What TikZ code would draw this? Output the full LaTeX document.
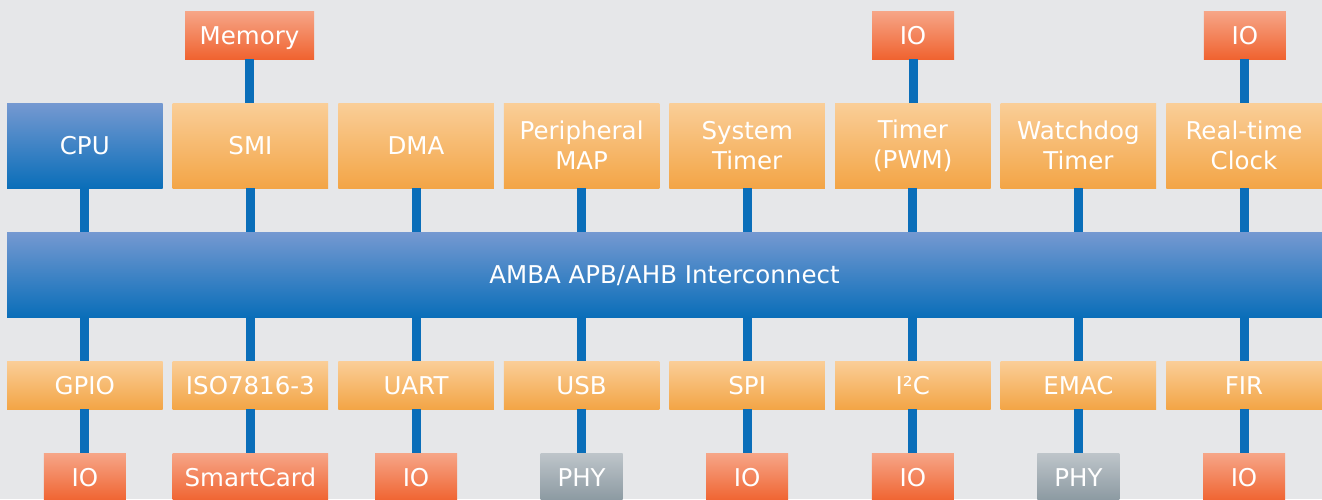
\documentclass[tikz,border=0pt]{standalone}
\usepackage{fontspec}
\setmainfont{DejaVu Sans}
\definecolor{bgcol}{HTML}{E6E7E9}
\definecolor{blueTop}{HTML}{7599D1}
\definecolor{blueMid}{HTML}{3D7FC4}
\definecolor{blueBot}{HTML}{0A6EB9}
\definecolor{orTop}{HTML}{FACE98}
\definecolor{orMid}{HTML}{F6B76A}
\definecolor{orBot}{HTML}{F3A546}
\definecolor{redTop}{HTML}{F6A688}
\definecolor{redMid}{HTML}{F27D50}
\definecolor{redBot}{HTML}{F06330}
\definecolor{gyTop}{HTML}{BEC5CA}
\definecolor{gyMid}{HTML}{A2ADB3}
\definecolor{gyBot}{HTML}{8B99A1}
\definecolor{wire}{HTML}{0A6EB9}
\tikzset{
  x=1pt, y=-1pt,
  box/.style={rectangle, inner sep=0pt, align=center, text=white,
    font=\fontsize{24.5}{29.7}\selectfont},
  one/.style={text height=18pt, text depth=0pt},
  bluebox/.style={box, top color=blueTop, middle color=blueMid, bottom color=blueBot},
  orbox/.style={box, top color=orTop, middle color=orMid, bottom color=orBot,
    minimum width=155.5pt},
  redbox/.style={box, one, top color=redTop, middle color=redMid, bottom color=redBot,
    minimum height=48pt},
  greybox/.style={box, one, top color=gyTop, middle color=gyMid, bottom color=gyBot,
    minimum height=48pt, minimum width=82pt},
  tall/.style={minimum height=85pt},
  short/.style={one, minimum height=48pt},
  conn/.style={draw=wire, line width=9pt},
}
\begin{document}
\begin{tikzpicture}
\useasboundingbox (0,0) rectangle (1322,499);
\clip (0,0) rectangle (1322,499);
\fill[bgcol] (0,0) rectangle (1322,499);

% top row of external devices
\node[redbox, minimum width=129pt] (mem) at (249.5,35) {Memory};
\node[redbox, minimum width=82pt] (iotA) at (913,35) {IO};
\node[redbox, minimum width=82pt] (iotB) at (1244.8,35) {IO};

% upper row of blocks
\node[bluebox, one, tall, minimum width=155.5pt] (cpu) at (84.8,145.5) {CPU};
\node[orbox, one, tall] (smi) at (250.4,145.5) {SMI};
\node[orbox, one, tall] (dma) at (416.0,145.5) {DMA};
\node[orbox, tall] (pmap) at (581.6,145.5) {Peripheral\\MAP};
\node[orbox, tall] (stim) at (747.2,145.5) {System\\Timer};
\node[orbox, tall] (pwm) at (912.8,145.5) {Timer\\(PWM)};
\node[orbox, tall] (wdt) at (1078.4,145.5) {Watchdog\\Timer};
\node[orbox, tall] (rtc) at (1244.0,145.5) {Real-time\\Clock};

% interconnect
\node[bluebox, one, minimum width=1315pt, minimum height=85pt] (bus) at (664.5,274.5) {AMBA APB/AHB Interconnect};

% lower row of blocks
\node[orbox, short] (gpio) at (84.8,385) {GPIO};
\node[orbox, short] (iso) at (250.4,385) {ISO7816-3};
\node[orbox, short] (uart) at (416.0,385) {UART};
\node[orbox, short] (usb) at (581.6,385) {USB};
\node[orbox, short] (spi) at (747.2,385) {SPI};
\node[orbox, short] (itc) at (912.8,385) {I²C};
\node[orbox, short] (emac) at (1078.4,385) {EMAC};
\node[orbox, short] (fir) at (1244.0,385) {FIR};

% bottom row of external devices
\node[redbox, minimum width=82pt] (ioA) at (84.8,477) {IO};
\node[redbox, minimum width=155.5pt] (card) at (250.4,477) {SmartCard};
\node[redbox, minimum width=82pt] (ioB) at (416.0,477) {IO};
\node[greybox] (phyA) at (581.6,477) {PHY};
\node[redbox, minimum width=82pt] (ioC) at (747.2,477) {IO};
\node[redbox, minimum width=82pt] (ioD) at (912.8,477) {IO};
\node[greybox] (phyB) at (1078.4,477) {PHY};
\node[redbox, minimum width=82pt] (ioE) at (1244.0,477) {IO};

% links from external devices to upper blocks
\draw[conn] (mem.south) -- (mem.south |- smi.north);
\draw[conn] (iotA.south) -- (iotA.south |- pwm.north);
\draw[conn] (iotB.south) -- (iotB.south |- rtc.north);

% upper blocks to the interconnect
\foreach \n in {cpu,smi,dma,pmap,stim,pwm,wdt,rtc}
  \draw[conn] (\n.south) -- (\n.south |- bus.north);

% interconnect to lower blocks
\foreach \n in {gpio,iso,uart,usb,spi,itc,emac,fir}
  \draw[conn] (\n.north |- bus.south) -- (\n.north);

% lower blocks to external devices
\draw[conn] (gpio.south) -- (gpio.south |- ioA.north);
\draw[conn] (iso.south) -- (iso.south |- card.north);
\draw[conn] (uart.south) -- (uart.south |- ioB.north);
\draw[conn] (usb.south) -- (usb.south |- phyA.north);
\draw[conn] (spi.south) -- (spi.south |- ioC.north);
\draw[conn] (itc.south) -- (itc.south |- ioD.north);
\draw[conn] (emac.south) -- (emac.south |- phyB.north);
\draw[conn] (fir.south) -- (fir.south |- ioE.north);
\end{tikzpicture}
\end{document}
